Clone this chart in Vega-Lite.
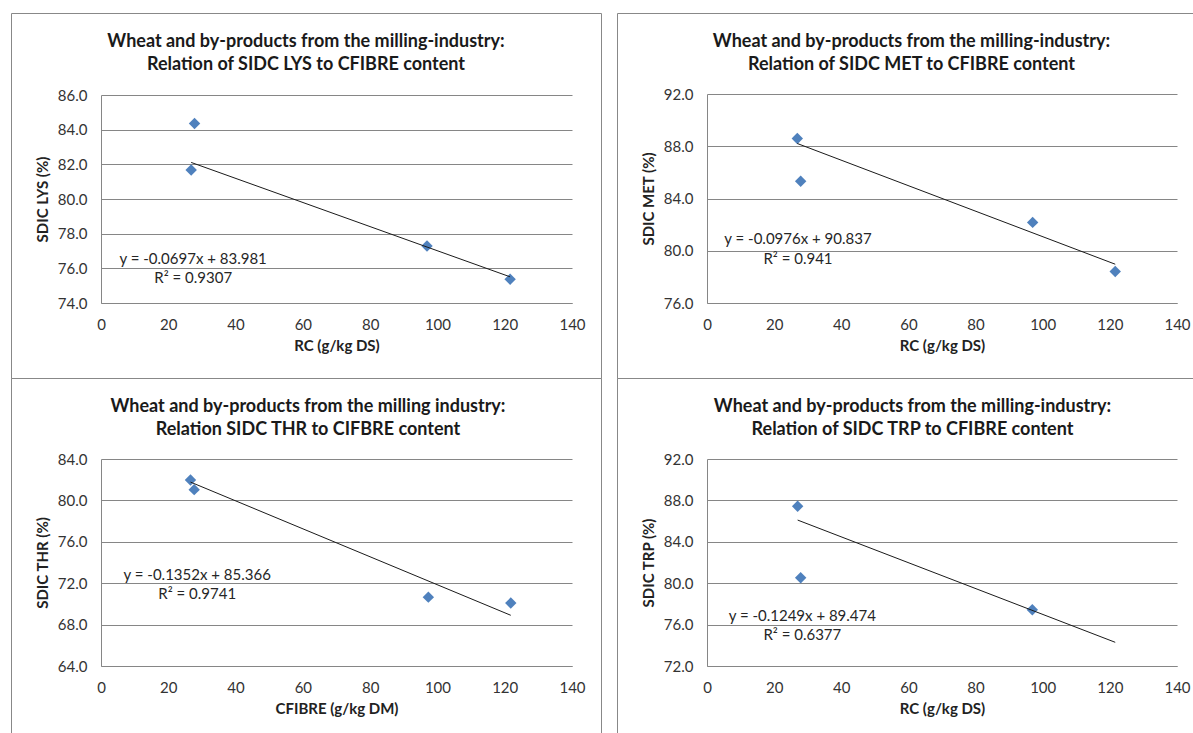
{
  "$schema": "https://vega.github.io/schema/vega-lite/v6.json",
  "padding": {"left": 10, "top": 12, "right": 0, "bottom": 0},
  "background": "white",
  "datasets": {
    "points": [
      {"panel": "LYS", "x": 27.8, "y": 84.36},
      {"panel": "LYS", "x": 26.8, "y": 81.67},
      {"panel": "LYS", "x": 96.9, "y": 77.29},
      {"panel": "LYS", "x": 121.6, "y": 75.37},
      {"panel": "MET", "x": 26.9, "y": 88.59},
      {"panel": "MET", "x": 27.9, "y": 85.32},
      {"panel": "MET", "x": 97.0, "y": 82.17},
      {"panel": "MET", "x": 121.6, "y": 78.41},
      {"panel": "THR", "x": 26.6, "y": 81.97},
      {"panel": "THR", "x": 27.7, "y": 81.04},
      {"panel": "THR", "x": 97.3, "y": 70.65},
      {"panel": "THR", "x": 121.8, "y": 70.08},
      {"panel": "TRP", "x": 27.0, "y": 87.43},
      {"panel": "TRP", "x": 27.9, "y": 80.52},
      {"panel": "TRP", "x": 96.9, "y": 77.44}
    ],
    "trend": [
      {"panel": "LYS", "x": 26.8, "y": 82.11},
      {"panel": "LYS", "x": 121.6, "y": 75.51},
      {"panel": "MET", "x": 26.9, "y": 88.21},
      {"panel": "MET", "x": 121.6, "y": 78.97},
      {"panel": "THR", "x": 26.6, "y": 81.77},
      {"panel": "THR", "x": 121.8, "y": 68.90},
      {"panel": "TRP", "x": 27.0, "y": 86.10},
      {"panel": "TRP", "x": 121.6, "y": 74.29}
    ],
    "eq": [
      {"panel": "LYS", "x": 27.4, "y": 76.55, "label": "y = -0.0697x + 83.981"},
      {"panel": "LYS", "x": 27.4, "y": 75.45, "label": "R² = 0.9307"},
      {"panel": "MET", "x": 27.1, "y": 80.87, "label": "y = -0.0976x + 90.837"},
      {"panel": "MET", "x": 27.1, "y": 79.36, "label": "R² = 0.941"},
      {"panel": "THR", "x": 28.6, "y": 72.81, "label": "y = -0.1352x + 85.366"},
      {"panel": "THR", "x": 28.6, "y": 70.96, "label": "R² = 0.9741"},
      {"panel": "TRP", "x": 28.4, "y": 76.85, "label": "y = -0.1249x + 89.474"},
      {"panel": "TRP", "x": 28.4, "y": 75.0, "label": "R² = 0.6377"}
    ]
  },
  "config": {
    "font": "Lato",
    "view": {"stroke": "#888888", "strokeWidth": 1},
    "axis": {
      "domainColor": "#868686",
      "domainWidth": 1,
      "gridColor": "#868686",
      "gridWidth": 1,
      "gridOpacity": 1,
      "ticks": false,
      "labelFont": "Lato",
      "labelFontSize": 15,
      "labelColor": "#333333",
      "labelPadding": 14,
      "labelOverlap": false,
      "titleFont": "Lato",
      "titleFontSize": 15,
      "titleFontWeight": "bold",
      "titleColor": "#222222"
    },
    "axisX": {"grid": false, "titlePadding": 6, "labelFlush": false},
    "axisY": {"grid": true, "titlePadding": 7},
    "title": {
      "font": "Lato",
      "fontSize": 18,
      "fontWeight": "bold",
      "color": "#1a1a1a",
      "anchor": "middle",
      "frame": "group",
      "lineHeight": 23,
      "offset": -61
    },
    "text": {"font": "Lato", "fontSize": 15, "color": "#262626"}
  },
  "columns": 2,
  "spacing": {"row": 0, "column": 16},
  "bounds": "flush",
  "concat": [
    {
      "width": 590,
      "height": 365,
      "title": {"text": ["Wheat and by-products from the milling-industry:", "Relation of SIDC LYS to CFIBRE content"]},
      "layer": [
        {
          "data": {"name": "points"},
          "transform": [{"filter": "datum.panel === 'LYS'"}],
          "mark": {"type": "point", "shape": "diamond", "filled": true, "size": 130, "color": "#4F81BD", "opacity": 1, "strokeWidth": 0},
          "encoding": {
            "x": {"field": "x", "type": "quantitative", "scale": {"domain": [0, 140], "range": [90, 561], "nice": false, "zero": false}, "axis": {"values": [0, 20, 40, 60, 80, 100, 120, 140], "title": "RC (g/kg DS)", "offset": -75}},
            "y": {"field": "y", "type": "quantitative", "scale": {"domain": [74, 86], "range": [290, 82], "nice": false, "zero": false}, "axis": {"values": [74, 76, 78, 80, 82, 84, 86], "format": ".1f", "title": "SDIC LYS (%)", "offset": -90}}
          }
        },
        {
          "data": {"name": "trend"},
          "transform": [{"filter": "datum.panel === 'LYS'"}],
          "mark": {"type": "line", "color": "#1a1a1a", "strokeWidth": 1},
          "encoding": {"x": {"field": "x", "type": "quantitative"}, "y": {"field": "y", "type": "quantitative"}}
        },
        {
          "data": {"name": "eq"},
          "transform": [{"filter": "datum.panel === 'LYS'"}],
          "mark": {"type": "text", "align": "center", "baseline": "middle"},
          "encoding": {"x": {"field": "x", "type": "quantitative"}, "y": {"field": "y", "type": "quantitative"}, "text": {"field": "label"}}
        }
      ]
    },
    {
      "width": 577,
      "height": 365,
      "title": {"text": ["Wheat and by-products from the milling-industry:", "Relation of SIDC MET to CFIBRE content"], "dx": 6},
      "layer": [
        {
          "data": {"name": "points"},
          "transform": [{"filter": "datum.panel === 'MET'"}],
          "mark": {"type": "point", "shape": "diamond", "filled": true, "size": 130, "color": "#4F81BD", "opacity": 1, "strokeWidth": 0},
          "encoding": {
            "x": {"field": "x", "type": "quantitative", "scale": {"domain": [0, 140], "range": [90, 560], "nice": false, "zero": false}, "axis": {"values": [0, 20, 40, 60, 80, 100, 120, 140], "title": "RC (g/kg DS)", "offset": -75}},
            "y": {"field": "y", "type": "quantitative", "scale": {"domain": [76, 92], "range": [290, 81], "nice": false, "zero": false}, "axis": {"values": [76, 80, 84, 88, 92], "format": ".1f", "title": "SDIC MET (%)", "offset": -90}}
          }
        },
        {
          "data": {"name": "trend"},
          "transform": [{"filter": "datum.panel === 'MET'"}],
          "mark": {"type": "line", "color": "#1a1a1a", "strokeWidth": 1},
          "encoding": {"x": {"field": "x", "type": "quantitative"}, "y": {"field": "y", "type": "quantitative"}}
        },
        {
          "data": {"name": "eq"},
          "transform": [{"filter": "datum.panel === 'MET'"}],
          "mark": {"type": "text", "align": "center", "baseline": "middle"},
          "encoding": {"x": {"field": "x", "type": "quantitative"}, "y": {"field": "y", "type": "quantitative"}, "text": {"field": "label"}}
        }
      ]
    },
    {
      "width": 590,
      "height": 356,
      "title": {"text": ["Wheat and by-products from the milling industry:", "Relation SIDC THR to CIFBRE content"], "dx": 2},
      "layer": [
        {
          "data": {"name": "points"},
          "transform": [{"filter": "datum.panel === 'THR'"}],
          "mark": {"type": "point", "shape": "diamond", "filled": true, "size": 130, "color": "#4F81BD", "opacity": 1, "strokeWidth": 0},
          "encoding": {
            "x": {"field": "x", "type": "quantitative", "scale": {"domain": [0, 140], "range": [90, 561], "nice": false, "zero": false}, "axis": {"values": [0, 20, 40, 60, 80, 100, 120, 140], "title": "CFIBRE (g/kg DM)", "offset": -68}},
            "y": {"field": "y", "type": "quantitative", "scale": {"domain": [64, 84], "range": [288, 81], "nice": false, "zero": false}, "axis": {"values": [64, 68, 72, 76, 80, 84], "format": ".1f", "title": "SDIC THR (%)", "offset": -90}}
          }
        },
        {
          "data": {"name": "trend"},
          "transform": [{"filter": "datum.panel === 'THR'"}],
          "mark": {"type": "line", "color": "#1a1a1a", "strokeWidth": 1},
          "encoding": {"x": {"field": "x", "type": "quantitative"}, "y": {"field": "y", "type": "quantitative"}}
        },
        {
          "data": {"name": "eq"},
          "transform": [{"filter": "datum.panel === 'THR'"}],
          "mark": {"type": "text", "align": "center", "baseline": "middle"},
          "encoding": {"x": {"field": "x", "type": "quantitative"}, "y": {"field": "y", "type": "quantitative"}, "text": {"field": "label"}}
        }
      ]
    },
    {
      "width": 577,
      "height": 356,
      "title": {"text": ["Wheat and by-products from the milling-industry:", "Relation of SIDC TRP to CFIBRE content"], "dx": 7},
      "layer": [
        {
          "data": {"name": "points"},
          "transform": [{"filter": "datum.panel === 'TRP'"}],
          "mark": {"type": "point", "shape": "diamond", "filled": true, "size": 130, "color": "#4F81BD", "opacity": 1, "strokeWidth": 0},
          "encoding": {
            "x": {"field": "x", "type": "quantitative", "scale": {"domain": [0, 140], "range": [90, 560], "nice": false, "zero": false}, "axis": {"values": [0, 20, 40, 60, 80, 100, 120, 140], "title": "RC (g/kg DS)", "offset": -68}},
            "y": {"field": "y", "type": "quantitative", "scale": {"domain": [72, 92], "range": [288, 81], "nice": false, "zero": false}, "axis": {"values": [72, 76, 80, 84, 88, 92], "format": ".1f", "title": "SDIC TRP (%)", "offset": -90}}
          }
        },
        {
          "data": {"name": "trend"},
          "transform": [{"filter": "datum.panel === 'TRP'"}],
          "mark": {"type": "line", "color": "#1a1a1a", "strokeWidth": 1},
          "encoding": {"x": {"field": "x", "type": "quantitative"}, "y": {"field": "y", "type": "quantitative"}}
        },
        {
          "data": {"name": "eq"},
          "transform": [{"filter": "datum.panel === 'TRP'"}],
          "mark": {"type": "text", "align": "center", "baseline": "middle"},
          "encoding": {"x": {"field": "x", "type": "quantitative"}, "y": {"field": "y", "type": "quantitative"}, "text": {"field": "label"}}
        }
      ]
    }
  ]
}
